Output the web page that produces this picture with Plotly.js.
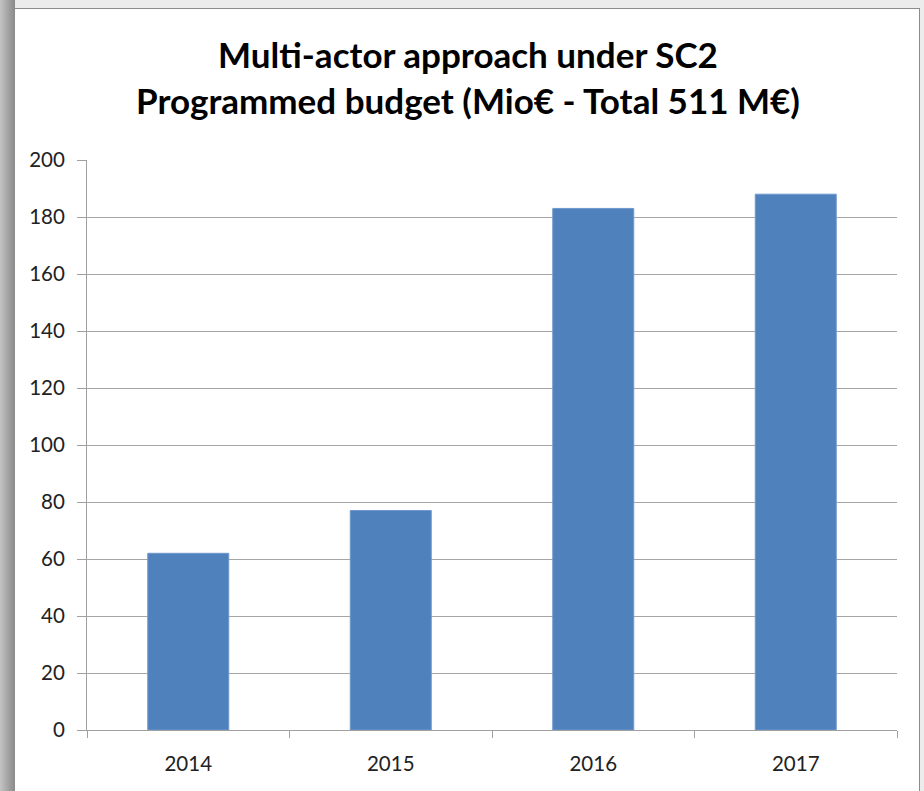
<!DOCTYPE html>
<html>
<head>
<meta charset="utf-8">
<script src="https://cdn.plot.ly/plotly-3.0.1.min.js"></script>
<style>
  html, body { margin: 0; padding: 0; }
  body { width: 924px; height: 791px; position: relative; overflow: hidden;
         background: #ececec; }
  #shadow { position: absolute; left: 0; top: 0; width: 15px; height: 791px;
            background: linear-gradient(to right, #c4c4c4, #9a9a9a 70%, #8a8a8a); }
  #frame { position: absolute; left: 14px; top: 8px; width: 906px; height: 790px;
           background: #ffffff; border: 1px solid #8c8c8c; box-sizing: border-box; }
  #chart { position: absolute; left: 0; top: 0; width: 924px; height: 791px; }
</style>
</head>
<body>
<div id="shadow"></div>
<div id="frame"></div>
<div id="chart"></div>
<script>
const years = ['2014', '2015', '2016', '2017'];
const budget = [62, 77, 183, 188];
const yTicks = [0, 20, 40, 60, 80, 100, 120, 140, 160, 180, 200];

const trace = {
  type: 'bar',
  x: years,
  y: budget,
  marker: { color: '#4F81BD', line: { color: '#6f98cc', width: 1 } },
  hoverinfo: 'x+y'
};

const layout = {
  width: 924,
  height: 791,
  paper_bgcolor: 'rgba(0,0,0,0)',
  plot_bgcolor: 'rgba(0,0,0,0)',
  margin: { l: 87, r: 27, t: 160, b: 61 },
  bargap: 0.6,
  showlegend: false,
  font: { family: 'Lato, "Open Sans", sans-serif', color: '#222' },
  title: {
    text: '<b>Multi-actor approach under SC2</b><br><b>Programmed budget (Mio€ - Total 511 M€)</b>',
    font: { family: 'Lato, "Open Sans", sans-serif', size: 35, color: '#000' },
    x: 468 / 924, xanchor: 'center', xref: 'container',
    y: 1 - 68 / 791, yanchor: 'top', yref: 'container'
  },
  xaxis: {
    type: 'category',
    showgrid: false,
    showline: true, linecolor: '#a0a0a0', linewidth: 1,
    ticks: 'outside', tickson: 'boundaries', ticklen: 7, tickcolor: '#a0a0a0',
    tickfont: { size: 20.5, color: '#222' },
    ticklabelstandoff: 15,
    zeroline: false
  },
  yaxis: {
    range: [0, 200],
    tickvals: yTicks,
    ticktext: yTicks.map(String),
    showgrid: true, gridcolor: '#a6a6a6', gridwidth: 1,
    showline: true, linecolor: '#a0a0a0', linewidth: 1,
    ticks: 'outside', ticklen: 9, tickcolor: '#a0a0a0',
    tickfont: { size: 20.5, color: '#222' },
    ticklabelstandoff: 8,
    zeroline: false
  }
};

Plotly.newPlot('chart', [trace], layout, { displayModeBar: false, staticPlot: true });
</script>
</body>
</html>
